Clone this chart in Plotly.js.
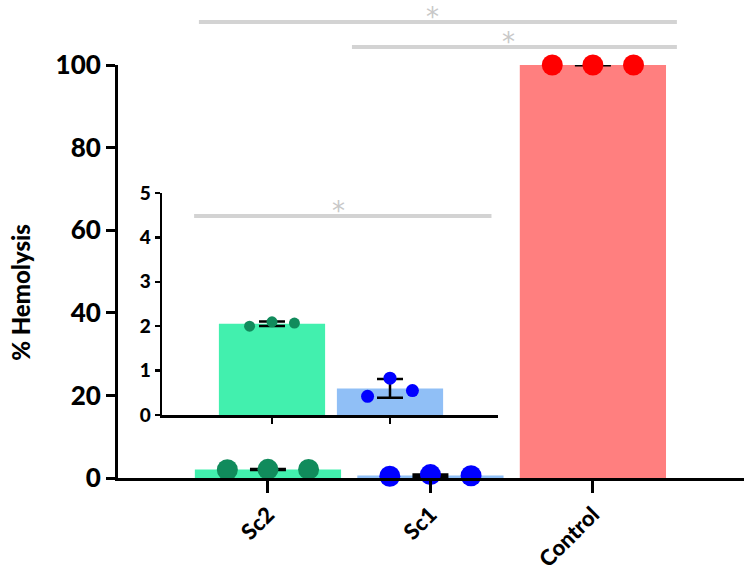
<!DOCTYPE html>
<html>
<head>
<meta charset="utf-8">
<script src="https://cdn.plot.ly/plotly-3.0.1.min.js"></script>
<style>html,body{margin:0;padding:0;background:#fff;}#chart{width:750px;height:572px;}</style>
</head>
<body>
<div id="chart"></div>
<script>
// ---- data ----
const categories = ["Sc2", "Sc1", "Control"];
const replicateValues = [
  [2.0, 2.1, 2.07],    // Sc2
  [0.42, 0.83, 0.55],  // Sc1
  [100, 100, 100]      // Control
];
const barColors = ["#42f0ae", "#90bff6", "#ff7f7f"];
const dotColors = ["#118b5c", "#0000ff", "#ff0000"];
const insetCategories = ["Sc2", "Sc1"];
const jitter = [-0.25, 0, 0.25];
const insetJitter = [-0.19, 0, 0.19];
const mainTicks = [0, 20, 40, 60, 80, 100];
const insetTicks = [0, 1, 2, 3, 4, 5];
const yTitle = "% Hemolysis";

function mean(a){return a.reduce((s,v)=>s+v,0)/a.length;}
function sd(a){const m=mean(a);return Math.sqrt(a.reduce((s,v)=>s+(v-m)*(v-m),0)/(a.length-1));}

const means = replicateValues.map(mean);
const sds = replicateValues.map(sd);
const idx = categories.map((c,i)=>i);

const FONT = "Lato, 'Open Sans', sans-serif";
const W = 900;
const traces = [];

// main bars
traces.push({
  type: "bar", x: idx, y: means, width: 0.9,
  marker: {color: barColors, line: {width: 0}},
  error_y: {type: "data", array: sds, visible: true, color: "#000", thickness: 3, width: 18},
  xaxis: "x", yaxis: "y", hoverinfo: "skip", showlegend: false
});
// main dots
categories.forEach((c,i)=>{
  traces.push({
    type: "scatter", mode: "markers",
    x: replicateValues[i].map((v,k)=>i+jitter[k]), y: replicateValues[i],
    marker: {color: dotColors[i], size: 21},
    cliponaxis: false, xaxis: "x", yaxis: "y", showlegend: false, hoverinfo: "skip"
  });
});
// inset bars
const insetIdx = insetCategories.map((c,i)=>i);
traces.push({
  type: "bar", x: insetIdx, y: insetIdx.map(i=>means[i]), width: 0.9,
  marker: {color: insetIdx.map(i=>barColors[i]), line: {width: 0}},
  error_y: {type: "data", array: insetIdx.map(i=>sds[i]), visible: true, color: "#000", thickness: 2.5, width: 13},
  xaxis: "x2", yaxis: "y2", hoverinfo: "skip", showlegend: false
});
insetIdx.forEach(i=>{
  traces.push({
    type: "scatter", mode: "markers",
    x: replicateValues[i].map((v,k)=>i+insetJitter[k]), y: replicateValues[i],
    marker: {color: dotColors[i], size: i===0 ? 11 : 13},
    cliponaxis: false, xaxis: "x2", yaxis: "y2", showlegend: false, hoverinfo: "skip"
  });
});

const sigColor = "#d3d3d3";
const starColor = "#c8c8c8";

const layout = {
  width: 750, height: 572,
  margin: {l: 118, r: 6, t: 65, b: 94},
  paper_bgcolor: "#fff", plot_bgcolor: "rgba(0,0,0,0)",
  font: {family: FONT, color: "#000", weight: W},
  bargap: 0.1,
  xaxis: {
    range: [-0.923, 2.93], tickvals: idx, ticktext: categories, tickangle: -45,
    showline: true, linecolor: "#000", linewidth: 3,
    ticks: "outside", ticklen: 12, tickwidth: 3, tickcolor: "#000",
    tickfont: {family: FONT, size: 22, color: "#000", weight: W},
    showgrid: false, zeroline: false, fixedrange: true
  },
  yaxis: {
    range: [0, 100], tickvals: mainTicks,
    showline: true, linecolor: "#000", linewidth: 3,
    ticks: "outside", ticklen: 9, tickwidth: 3, tickcolor: "#000",
    tickfont: {family: FONT, size: 26, color: "#000", weight: W},
    showgrid: false, zeroline: false
  },
  xaxis2: {
    domain: [0.0703, 0.607], anchor: "y2", range: [-0.932, 1.915],
    tickvals: insetIdx, ticktext: ["", ""],
    showline: true, linecolor: "#000", linewidth: 2.5,
    ticks: "outside", ticklen: 6, tickwidth: 2.5, tickcolor: "#000",
    showgrid: false, zeroline: false
  },
  yaxis2: {
    domain: [0.1525, 0.690], anchor: "x2", range: [0, 5], tickvals: insetTicks,
    showline: true, linecolor: "#000", linewidth: 2.5,
    ticks: "outside", ticklen: 5, tickwidth: 2.5, tickcolor: "#000",
    tickfont: {family: FONT, size: 19, color: "#000", weight: W},
    showgrid: false, zeroline: false
  },
  shapes: [
    {type: "line", xref: "x", yref: "paper", x0: -0.425, x1: 2.517, y0: 1.104, y1: 1.104, line: {color: sigColor, width: 4}},
    {type: "line", xref: "x", yref: "paper", x0: 0.517, x1: 2.517, y0: 1.0436, y1: 1.0436, line: {color: sigColor, width: 4}},
    {type: "line", xref: "x2", yref: "y2", x0: -0.66, x1: 1.86, y0: 4.48, y1: 4.48, line: {color: sigColor, width: 4}}
  ],
  annotations: [
    {text: yTitle, xref: "paper", yref: "paper", x: -0.157, y: 0.45, textangle: -90, showarrow: false,
     font: {family: FONT, size: 24, color: "#000", weight: W}, xanchor: "center", yanchor: "middle"},
    {text: "*", xref: "x", yref: "paper", x: 1.015, y: 1.117, showarrow: false, font: {size: 26, color: starColor, family: "DejaVu Sans", weight: 400}, yanchor: "middle"},
    {text: "*", xref: "x", yref: "paper", x: 1.48, y: 1.055, showarrow: false, font: {size: 26, color: starColor, family: "DejaVu Sans", weight: 400}, yanchor: "middle"},
    {text: "*", xref: "x2", yref: "y2", x: 0.56, y: 4.6, showarrow: false, font: {size: 26, color: starColor, family: "DejaVu Sans", weight: 400}, yanchor: "middle"}
  ]
};

Plotly.newPlot("chart", traces, layout, {displayModeBar: false, staticPlot: true});
</script>
</body>
</html>
